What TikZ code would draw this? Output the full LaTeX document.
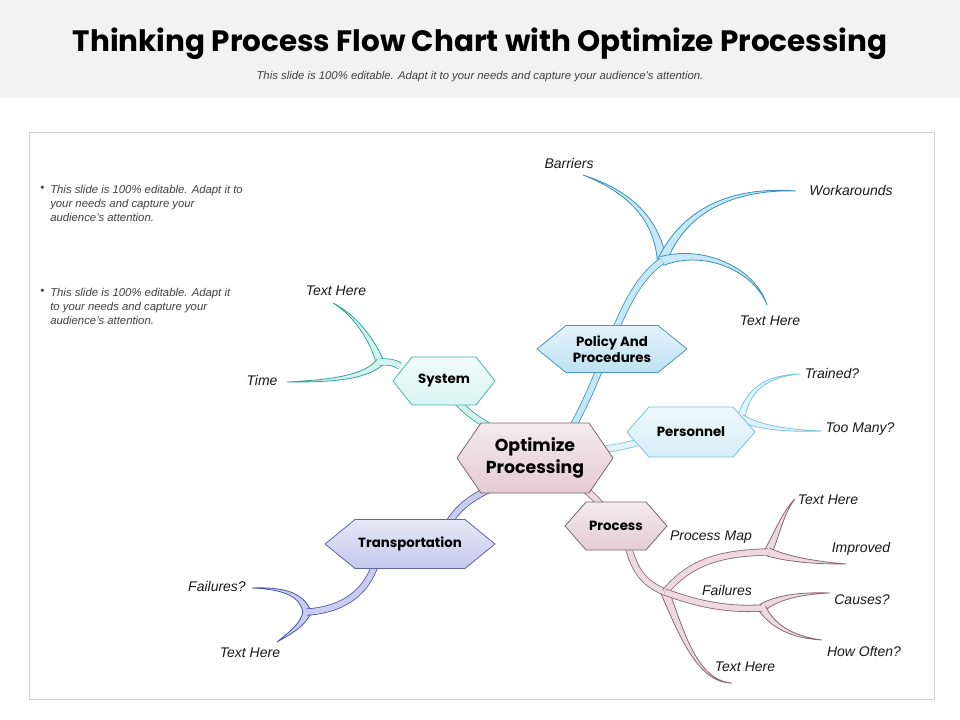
\documentclass[tikz,border=0pt]{standalone}
\usepackage{fontspec}
\setmainfont{Liberation Sans}
\newfontfamily\gothic{Poppins}
\usetikzlibrary{calc}
% branch colours
\definecolor{tealF}{HTML}{D2F3EF}\definecolor{tealD}{HTML}{2FA796}
\definecolor{blueF}{HTML}{C6E7F5}\definecolor{blueD}{HTML}{3A92BD}
\definecolor{lblueF}{HTML}{E2F4FA}\definecolor{lblueD}{HTML}{78C6E0}
\definecolor{pinkF}{HTML}{EDDAE0}\definecolor{pinkD}{HTML}{8B6673}
\definecolor{periF}{HTML}{C9CEF0}\definecolor{periD}{HTML}{4B55A8}
% hexagon colours
\definecolor{hpinkF}{HTML}{E3CCD3}\definecolor{hpinkD}{HTML}{7E6470}
\definecolor{hblueF}{HTML}{BDE1F1}\definecolor{hblueD}{HTML}{4A98BD}
\definecolor{htealF}{HTML}{DAF5F2}\definecolor{htealD}{HTML}{4DB5A8}
\definecolor{hlblueF}{HTML}{D5EEF8}\definecolor{hlblueD}{HTML}{77C2DC}
\definecolor{hperiF}{HTML}{C3C8EC}\definecolor{hperiD}{HTML}{5E66A8}
\definecolor{headbg}{HTML}{F2F2F2}
\definecolor{subgray}{HTML}{404040}
\tikzset{
  stem/.style={draw=#1D, double=#1F, double distance=4.2pt, line width=0.6pt},
  lab/.style={font=\itshape\fontsize{10.5}{12}\selectfont, text=black!90, inner sep=0pt},
  hextext/.style={font=\gothic\bfseries\fontsize{10}{12}\selectfont, align=center, inner sep=0pt},
  bigtext/.style={font=\gothic\bfseries\fontsize{13}{16}\selectfont, align=center, inner sep=0pt},
  bultext/.style={font=\itshape\fontsize{8.5}{10.5}\selectfont, text=subgray, align=left, inner sep=0pt},
}
\newcommand\branch[6]{%
  \pgfmathsetlengthmacro\bwa{#6}%
  \pgfmathsetlengthmacro\bwb{0.6*#6}%
  \pgfmathsetlengthmacro\bwc{0.3*#6}%
  \fill[#1F] ($#2!\bwa!90:#3$) .. controls ($#3!\bwb!90:#4$) and ($#4!\bwc!90:#5$) .. #5
     .. controls ($#4!\bwc!-90:#5$) and ($#3!\bwb!-90:#4$) .. ($#2!\bwa!-90:#3$) -- cycle;
  \draw[#1D, line width=0.6pt] ($#2!\bwa!90:#3$) .. controls ($#3!\bwb!90:#4$) and ($#4!\bwc!90:#5$) .. #5
     .. controls ($#4!\bwc!-90:#5$) and ($#3!\bwb!-90:#4$) .. ($#2!\bwa!-90:#3$);
}
\newcommand\hexagon[9]{% name, cx, cy, hw, hh, inset, colour, text style, text
  \path[draw=#7D, line width=0.6pt, top color=#7F!40!white, bottom color=#7F]
    (#2-#4,#3) -- (#2-#4+#6,#3-#5) -- (#2+#4-#6,#3-#5) -- (#2+#4,#3)
    -- (#2+#4-#6,#3+#5) -- (#2-#4+#6,#3+#5) -- cycle;
  \node[#8] (#1) at (#2,#3) {#9};
}
\begin{document}
\begin{tikzpicture}[x=0.75pt,y=-0.75pt]
\useasboundingbox (0,0) rectangle (960,720);
\fill[white] (0,0) rectangle (960,720);
\fill[headbg] (0,0) rectangle (960,98);
\node[font=\gothic\bfseries\fontsize{22.1}{26}\selectfont] (title) at (480,44) {Thinking Process Flow Chart with Optimize Processing};
\node[font=\itshape\fontsize{8.5}{10}\selectfont, text=subgray] (subtitle) at (480,77) {This slide is 100\% editable. Adapt it to your needs and capture your audience's attention.};
\draw[black!18, line width=0.6pt] (29,132) rectangle (934,699);

% bullets
\node[bultext, anchor=north west] (bul1) at (40,186) {\textbullet};
\node[bultext, anchor=north west] (b1) at (50,185) {This slide is 100\% editable. Adapt it to\\your needs and capture your\\audience's attention.};
\node[bultext, anchor=north west] (bul2) at (40,289) {\textbullet};
\node[bultext, anchor=north west] (b2) at (50,288) {This slide is 100\% editable. Adapt it\\to your needs and capture your\\audience's attention.};

% key coordinates
\coordinate (pfork) at (662,261);
\coordinate (sfork) at (380,362);
\coordinate (nfork) at (741,418);
\coordinate (rfork) at (665,592);
\coordinate (rmap) at (768,552);
\coordinate (rfail) at (762,608);
\coordinate (tfork) at (307,612);

% ---------- branches (tapered) ----------
% policy
\branch{blue}{(pfork)}{(656,215)}{(625,190)}{(583,175)}{3.5pt}
\branch{blue}{(pfork)}{(686,205)}{(740,188)}{(796,191)}{3.5pt}
\branch{blue}{(pfork)}{(705,247)}{(755,270)}{(767,305)}{3.5pt}
% system
\branch{teal}{(sfork)}{(372,340)}{(356,316)}{(333,303)}{3pt}
\branch{teal}{(sfork)}{(365,378)}{(330,381)}{(287,382)}{3pt}
% personnel
\branch{lblue}{(nfork)}{(748,390)}{(765,376)}{(800,374)}{2.8pt}
\branch{lblue}{(nfork)}{(760,428)}{(790,431)}{(822,431)}{2.8pt}
% process
\branch{pink}{(rmap)}{(778,532)}{(783,512)}{(795,499)}{3.1pt}
\branch{pink}{(rmap)}{(790,560)}{(820,563)}{(846,564)}{3.1pt}
\branch{pink}{(rfail)}{(775,598)}{(800,593)}{(830,593)}{3.1pt}
\branch{pink}{(rfail)}{(772,625)}{(790,637)}{(822,640)}{3.1pt}
\branch{pink}{(rfork)}{(682,635)}{(698,682)}{(732,683)}{3.3pt}
% transportation
\branch{peri}{(tfork)}{(302,595)}{(285,588)}{(252,588)}{3.1pt}
\branch{peri}{(tfork)}{(303,625)}{(290,633)}{(277,642)}{3.1pt}

% ---------- stems ----------
\coordinate (cP) at (572,428);
\coordinate (cS) at (490,427);
\coordinate (cN) at (605,449);
\coordinate (cR) at (583,488);
\coordinate (cT) at (492,488);
\draw[stem=blue] (cP) .. controls (610,360) and (620,290) .. (pfork);
\draw[stem=teal] (cS) .. controls (472,416) .. (455,400);
\draw[stem=teal] (400,366) .. controls (392,362) .. (sfork);
\draw[stem=lblue] (cN) .. controls (620,447) .. (640,442);
\draw[stem=pink] (cR) .. controls (592,495) .. (602,506);
\draw[stem=pink] (628,545) .. controls (635,575) and (648,585) .. (rfork);
\draw[stem=pink] (rfork) .. controls (690,562) and (720,553) .. (rmap);
\draw[stem=pink] (rfork) .. controls (700,605) and (730,610) .. (rfail);
\draw[stem=peri] (cT) .. controls (470,498) and (458,508) .. (448,524);
\draw[stem=peri] (375,565) .. controls (365,595) and (340,610) .. (tfork);

% ---------- hexagons ----------
\hexagon{policy}{612}{349}{75}{23.5}{29}{hblue}{hextext}{Policy And\\Procedures}
\hexagon{system}{444}{381}{51}{24}{19}{hteal}{hextext}{System}
\hexagon{personnel}{691}{432}{64}{25}{22}{hlblue}{hextext}{Personnel}
\hexagon{process}{616}{526}{51}{24}{21}{hpink}{hextext}{Process}
\hexagon{transport}{410}{544}{85}{24.5}{30}{hperi}{hextext}{Transportation}
\hexagon{center}{535}{458}{78}{35}{24}{hpink}{bigtext}{Optimize\\Processing}

% ---------- labels ----------
\node[lab] (lbar) at (569,163) {Barriers};
\node[lab] (lwork) at (851,191) {Workarounds};
\node[lab] (lpth) at (770,321) {Text Here};
\node[lab] (lsth) at (336,291) {Text Here};
\node[lab] (ltime) at (262,380) {Time};
\node[lab] (ltrain) at (832,373) {Trained?};
\node[lab] (lmany) at (860,429) {Too Many?};
\node[lab] (lrth) at (828,500) {Text Here};
\node[lab] (lmap) at (711,537) {Process Map};
\node[lab] (limp) at (861,549) {Improved};
\node[lab] (lfail) at (727,590) {Failures};
\node[lab] (lcause) at (862,600) {Causes?};
\node[lab] (lhow) at (864,651) {How Often?};
\node[lab] (lrth2) at (745,667) {Text Here};
\node[lab] (ltfail) at (217,586) {Failures?};
\node[lab] (ltth) at (250,653) {Text Here};
\end{tikzpicture}
\end{document}
